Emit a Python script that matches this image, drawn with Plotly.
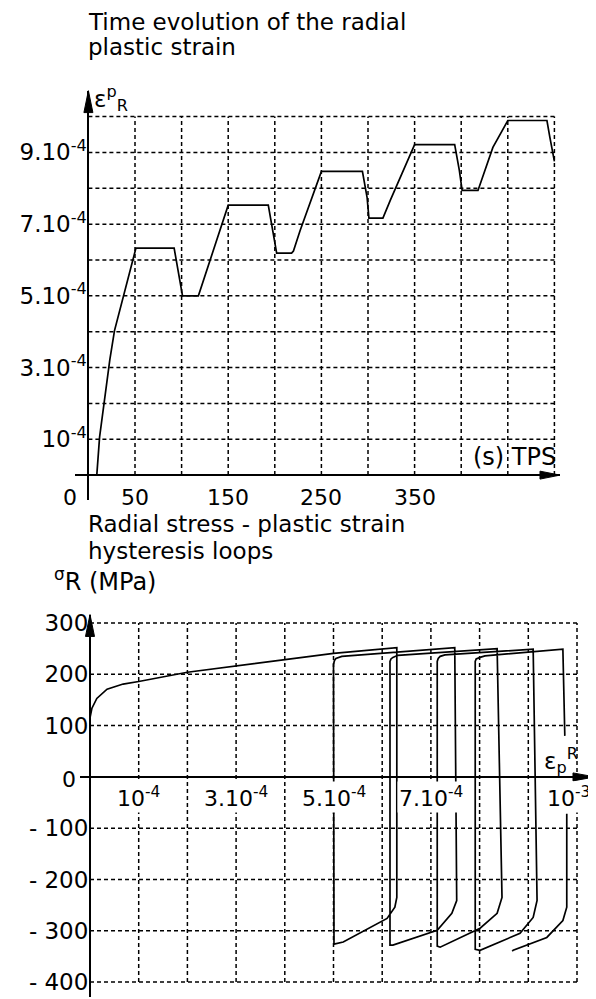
import plotly.graph_objects as go

# the page body keeps its default 8px margin, so the figure is laid out 8px in
OFF = 8
W, H = 596 - OFF, 999 - OFF - 1
FONT = "DejaVu Sans"

# ---------------- top chart: time evolution ----------------
time_s = [9, 12, 23, 28, 51, 92, 101, 118, 150, 193, 202, 218, 220, 227, 250, 294, 299,
          301, 316, 324, 350, 393, 398, 401, 418, 434, 450, 492, 495, 500]
strain_e4 = [0, 1.06, 3.22, 4.03, 6.33, 6.33, 5.0, 5.0, 7.53, 7.53, 6.19, 6.19, 6.25, 6.81,
             8.47, 8.47, 7.75, 7.17, 7.17, 7.67, 9.22, 9.22, 8.5, 7.94, 7.94, 9.14, 9.89,
             9.89, 9.44, 8.75]

top_xtick_vals = [50, 150, 250, 350]
top_xtick_text = ["50", "150", "250", "350"]
top_ytick_vals = [1, 3, 5, 7, 9]
top_ytick_text = ["10<sup>-4</sup>", "3.10<sup>-4</sup>", "5.10<sup>-4</sup>",
                  "7.10<sup>-4</sup>", "9.10<sup>-4</sup>"]
top_grid_x = [50, 100, 150, 200, 250, 300, 350, 400, 450, 500]
top_grid_y = [1, 2, 3, 4, 5, 6, 7, 8, 9, 10]

# ---------------- bottom chart: hysteresis loops ----------------
eps_e4 = [0, 0.04, 0.14, 0.35, 0.68, 1.0, 2.0, 3.0, 4.0, 5.0, 6.3,
          6.3, 6.26, 6.10, 5.20, 5.01,
          5.0, 5.02, 5.05, 5.17, 7.49,
          7.53, 7.43, 7.13, 6.22, 6.16,
          6.16, 6.18, 6.22, 6.32, 8.36,
          8.46, 8.36, 8.01, 7.19, 7.13,
          7.13, 7.15, 7.19, 7.29, 9.10,
          9.18, 9.10, 8.83, 8.01, 7.91,
          7.91, 7.93, 8.01, 8.11, 9.71,
          9.75, None, 9.79, 9.79, 9.71, 9.38, 8.69, 8.67]
stress = [115, 134, 153, 171, 181, 186, 204, 216, 229, 241, 252,
          -235, -254, -276, -322, -326,
          219, 227, 231, 235, 252,
          -241, -266, -299, -328, -328,
          225, 230, 233, 237, 250,
          -235, -266, -295, -332, -330,
          225, 231, 235, 238, 249,
          -241, -274, -305, -338, -336,
          225, 230, 233, 236, 249,
          80, None, -72, -254, -280, -313, -338, -340]

bot_xtick_vals = [1, 3, 5, 7, 10]
bot_xtick_text = ["10<sup>-4</sup>", "3.10<sup>-4</sup>", "5.10<sup>-4</sup>",
                  "7.10<sup>-4</sup>", "10<sup>-3</sup>"]
bot_ytick_vals = [300, 200, 100, -100, -200, -300, -400]
bot_ytick_text = ["300", "200", "100", "- 100", "- 200", "- 300", "- 400"]
bot_grid_x = [1, 2, 3, 4, 5, 6, 7, 8, 9, 10]
bot_grid_y = [-400, -300, -200, -100, 100, 200, 300]


def px_x(p):
    return (p - OFF) / W


def px_y(p):
    return 1 - (p - OFF) / H


# pixel geometry of the two panels (page pixels)
T0, TS = 88.4, 0.932      # px of t=0, px per second
E0, ES = 473.0, 36.0      # px of strain 0, px per 1e-4
P0, PS = 90.0, 48.7       # px of eps 0, px per 1e-4
S0, SS = 776.0, 0.515     # px of stress 0, px per MPa

fig = go.Figure()

fig.add_trace(go.Scatter(x=time_s, y=strain_e4, mode="lines",
                         line=dict(color="black", width=1.7),
                         xaxis="x", yaxis="y", hoverinfo="skip"))
fig.add_trace(go.Scatter(x=eps_e4, y=stress, mode="lines",
                         line=dict(color="black", width=1.7),
                         connectgaps=False,
                         xaxis="x2", yaxis="y2", hoverinfo="skip"))

shapes = []
grid_line = dict(color="black", width=1.5, dash="4px,3px")
for gx in top_grid_x:
    shapes.append(dict(type="line", xref="x", yref="y", x0=gx, x1=gx,
                       y0=0, y1=max(top_grid_y), line=grid_line, layer="below"))
for gy in top_grid_y:
    shapes.append(dict(type="line", xref="x", yref="y", x0=0, x1=max(top_grid_x),
                       y0=gy, y1=gy, line=grid_line, layer="below"))
for gx in bot_grid_x:
    shapes.append(dict(type="line", xref="x2", yref="y2", x0=gx, x1=gx,
                       y0=min(bot_grid_y), y1=max(bot_grid_y), line=grid_line, layer="below"))
for gy in bot_grid_y:
    shapes.append(dict(type="line", xref="x2", yref="y2", x0=0, x1=max(bot_grid_x),
                       y0=gy, y1=gy, line=grid_line, layer="below"))


def arrow(tipx, tipy, direction, length=22, half=4.5):
    if direction == "up":
        pts = [(tipx, tipy), (tipx - half, tipy + length), (tipx + half, tipy + length)]
    else:
        pts = [(tipx, tipy), (tipx - length, tipy - half), (tipx - length, tipy + half)]
    path = "M " + " L ".join(f"{px_x(a):.5f},{px_y(b):.5f}" for a, b in pts) + " Z"
    return dict(type="path", xref="paper", yref="paper", path=path,
                fillcolor="black", line=dict(color="black", width=1))


shapes += [arrow(T0, 87, "up"), arrow(560, E0, "right", 20, 4),
           arrow(P0, 613, "up"), arrow(595, S0, "right", 22, 4)]

ann = []
txt = dict(family=FONT, size=23, color="black")
for text, y in [("Time evolution of the radial", 18), ("plastic strain", 43),
                ("Radial stress - plastic strain", 522), ("hysteresis loops", 549)]:
    ann.append(dict(text=text, xref="paper", yref="paper", x=px_x(86), y=px_y(y),
                    xanchor="left", yanchor="middle", showarrow=False, font=txt))

ann.append(dict(text="ε<sup>p</sup><sub>R</sub>", xref="paper", yref="paper",
                x=px_x(92), y=px_y(95), xanchor="left", yanchor="middle",
                showarrow=False, font=dict(family=FONT, size=23, color="black")))
ann.append(dict(text="(s) TPS", xref="paper", yref="paper",
                x=px_x(558), y=px_y(455), xanchor="right", yanchor="middle",
                showarrow=False, font=dict(family=FONT, size=24, color="black")))
ann.append(dict(text="<sup>σ</sup>R (MPa)", xref="paper", yref="paper",
                x=px_x(52), y=px_y(578), xanchor="left", yanchor="middle",
                showarrow=False, font=dict(family=FONT, size=24, color="black")))
ann.append(dict(text="ε<sub>p</sub><sup>R</sup>", xref="paper", yref="paper",
                x=px_x(542), y=px_y(760), xanchor="left", yanchor="middle",
                showarrow=False, font=dict(family=FONT, size=23, color="black")))

tickfont = dict(family=FONT, size=22, color="black")
ytickfont = dict(family=FONT, size=23, color="black")
for v, t in zip(top_xtick_vals, top_xtick_text):
    ann.append(dict(text=t, xref="x", yref="y", x=v, y=0, yshift=-22,
                    xanchor="center", yanchor="middle", showarrow=False, font=tickfont))
ann.append(dict(text="0", xref="x", yref="y", x=0, y=0, xshift=-9, yshift=-22,
                xanchor="right", yanchor="middle", showarrow=False, font=tickfont))

for i, (v, t) in enumerate(zip(bot_xtick_vals, bot_xtick_text)):
    last = i == len(bot_xtick_vals) - 1
    ann.append(dict(text=t, xref="x2", yref="y2", x=v, y=0, yshift=-20,
                    xshift=15 if last else 0,
                    xanchor="right" if last else "center", yanchor="middle",
                    showarrow=False, font=tickfont, bgcolor="white", borderpad=1))
ann.append(dict(text="0", xref="x2", yref="y2", x=0, y=0, xshift=-12, yshift=-3,
                xanchor="right", yanchor="middle", showarrow=False, font=tickfont))

axis_common = dict(showgrid=False, zeroline=False, showline=True, linecolor="black",
                   linewidth=2, ticks="", fixedrange=True)

fig.update_layout(
    width=W, height=H, margin=dict(l=0, r=0, t=0, b=0),
    paper_bgcolor="white", plot_bgcolor="rgba(0,0,0,0)", showlegend=False,
    xaxis=dict(axis_common, domain=[px_x(75), px_x(560)],
               range=[(75 - T0) / TS, (560 - T0) / TS],
               anchor="free", position=px_y(E0), showticklabels=False),
    yaxis=dict(axis_common, domain=[px_y(498), px_y(87)],
               range=[(E0 - 498) / ES, (E0 - 87) / ES],
               anchor="free", position=px_x(T0), ticklabelstandoff=-4,
               tickvals=top_ytick_vals, ticktext=top_ytick_text, tickfont=ytickfont),
    xaxis2=dict(axis_common, domain=[px_x(80), px_x(596)],
                range=[(80 - P0) / PS, (596 - P0) / PS],
                anchor="free", position=px_y(S0), showticklabels=False),
    yaxis2=dict(axis_common, domain=[px_y(997), px_y(613)],
                range=[(S0 - 997) / SS, (S0 - 613) / SS],
                anchor="free", position=px_x(P0), ticklabelstandoff=-4,
                tickvals=bot_ytick_vals, ticktext=bot_ytick_text, tickfont=ytickfont),
    shapes=shapes, annotations=ann,
)

fig.write_html("out.html")
